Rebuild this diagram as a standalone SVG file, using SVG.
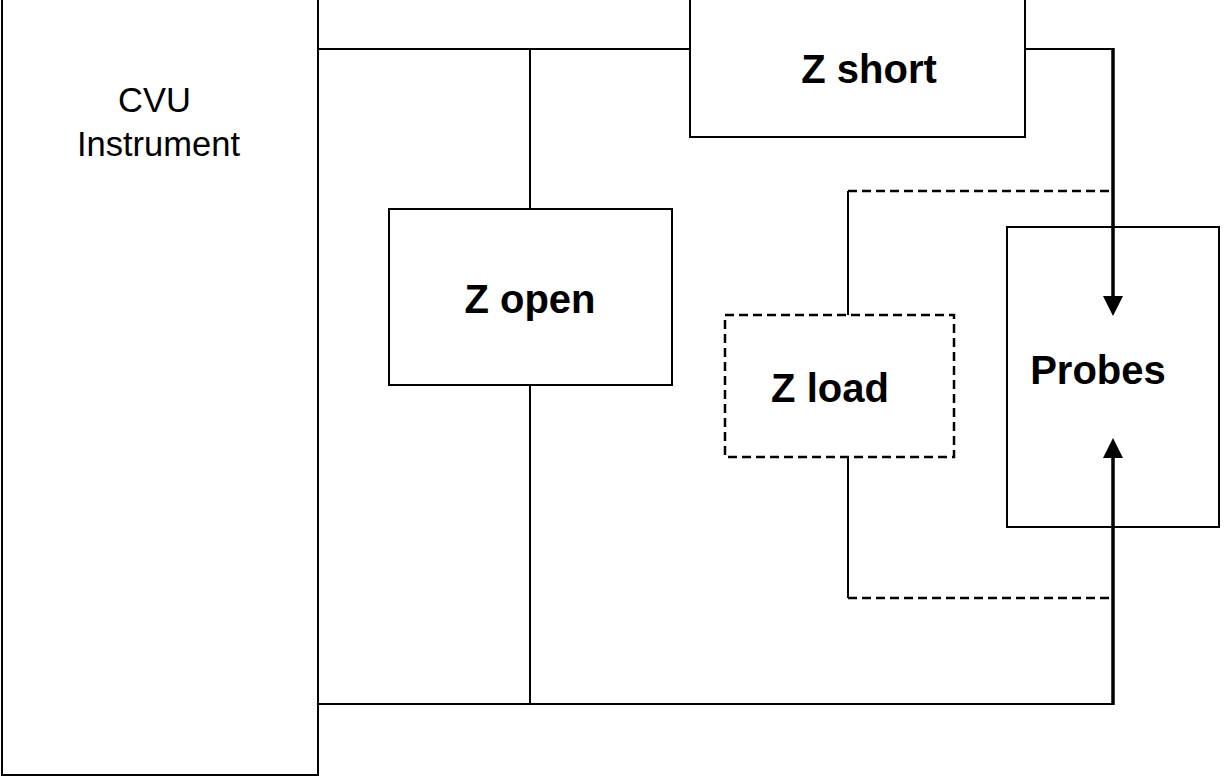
<svg xmlns="http://www.w3.org/2000/svg" width="1224" height="780" viewBox="0 0 1224 780">
<defs>
<style>
.box{fill:#fff;stroke:#000;stroke-width:2}
.dbox{fill:#fff;stroke:#000;stroke-width:2.5;stroke-dasharray:9 5}
.w{fill:none;stroke:#000;stroke-width:2}
.d{fill:none;stroke:#000;stroke-width:2.5;stroke-dasharray:9 5}
.a{fill:none;stroke:#000;stroke-width:3.5}
.t{font-family:"Liberation Sans",Arial,sans-serif;font-size:34.5px;fill:#000}
.b{font-family:"Liberation Sans",Arial,sans-serif;font-size:40px;font-weight:bold;fill:#000}
</style>
</defs>
<rect width="1224" height="780" fill="#fff"/>
<g id="connectors">
<line class="w" x1="318" y1="49" x2="690" y2="49"/>
<line class="w" x1="530" y1="49" x2="530" y2="209"/>
<line class="w" x1="530" y1="385" x2="530" y2="704"/>
<line class="w" x1="318" y1="704" x2="1113" y2="704"/>
<line class="w" x1="1025" y1="49" x2="1113" y2="49"/>
<line class="w" x1="848" y1="191" x2="848" y2="315"/>
<line class="d" x1="848" y1="191" x2="1113" y2="191"/>
<line class="w" x1="848" y1="457" x2="848" y2="598"/>
<line class="d" x1="848" y1="598" x2="1113" y2="598"/>
<line class="a" x1="1113" y1="48" x2="1113" y2="298"/>
<path d="M1103,296 L1123,296 L1113,316 z" fill="#000"/>
<line class="a" x1="1113" y1="705" x2="1113" y2="456"/>
<path d="M1103,458 L1123,458 L1113,438 z" fill="#000"/>
</g>
<g id="cvu">
<rect class="box" x="2" y="-5" width="316" height="780"/>
<text class="t" x="118" y="112">CVU</text>
<text class="t" x="77" y="156">Instrument</text>
</g>
<g id="zshort">
<rect class="box" x="690" y="-5" width="335" height="142"/>
<text class="b" x="869" y="83" text-anchor="middle">Z short</text>
</g>
<g id="zopen">
<rect class="box" x="389" y="209" width="283" height="176"/>
<text class="b" x="530" y="313" text-anchor="middle">Z open</text>
</g>
<g id="zload">
<rect class="dbox" x="725" y="315" width="229" height="142"/>
<text class="b" x="830" y="402" text-anchor="middle">Z load</text>
</g>
<g id="probes">
<rect class="box" x="1007" y="227" width="212" height="300" style="fill:none"/>
<text class="b" x="1098" y="384" text-anchor="middle">Probes</text>
</g>
</svg>
